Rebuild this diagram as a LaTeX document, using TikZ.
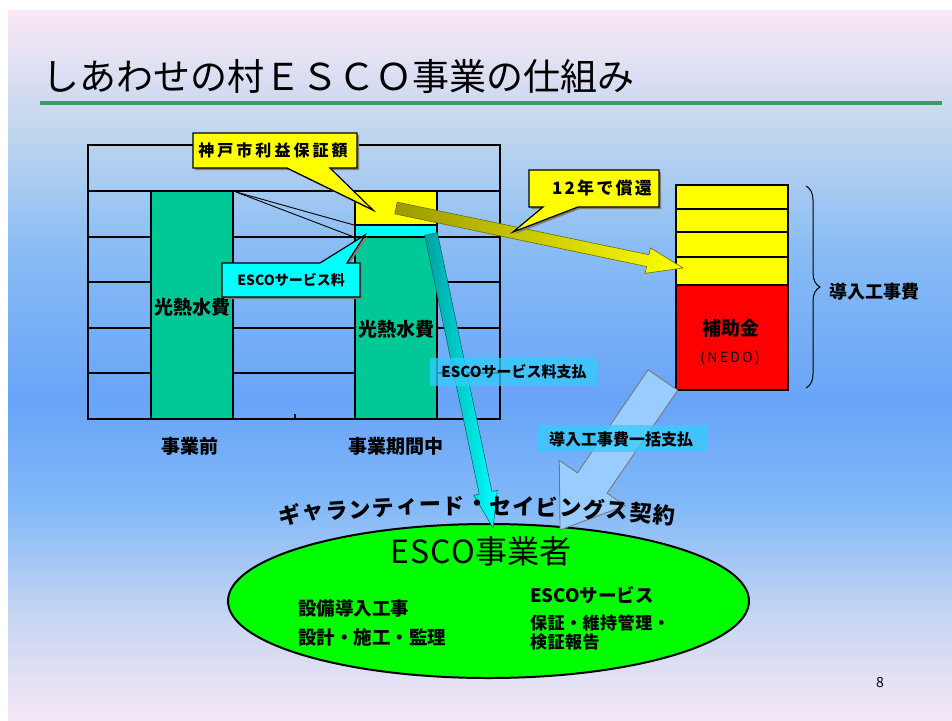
\documentclass[tikz,border=0pt]{standalone}
\usepackage{fontspec}
\setmainfont{Noto Sans CJK JP}
\usetikzlibrary{calc,decorations.pathreplacing,shapes.geometric}
\definecolor{bgA}{HTML}{FBE8F6}
\definecolor{bgB}{HTML}{C0D6EE}
\definecolor{bgC}{HTML}{88BCF4}
\definecolor{bgD}{HTML}{68A4F8}
\definecolor{bgE}{HTML}{80B8F8}
\definecolor{bgF}{HTML}{C8D6F2}
\definecolor{bgG}{HTML}{F5E8F6}
\definecolor{ruleg}{HTML}{3A9A6A}
\definecolor{barg}{HTML}{00C896}
\definecolor{ylw}{HTML}{FFFF00}
\definecolor{cyn}{HTML}{00FFFF}
\definecolor{redb}{HTML}{FF0000}
\definecolor{ellg}{HTML}{00FF00}
\definecolor{lblbox}{HTML}{33CCFF}
\definecolor{lightarr}{HTML}{99CCFF}
\definecolor{olivedk}{HTML}{9A9A00}
\definecolor{tealdk}{HTML}{00A0A0}
\newcommand\blkarrow[6]{%
  \coordinate (ah) at ($(#3)!#6!(#2)$);
  \path[#1] ($(#2)!#4!90:(#3)$) -- ($(ah)!#4!90:(#3)$) -- ($(ah)!#5!90:(#3)$) -- (#3)
    -- ($(ah)!#5!-90:(#3)$) -- ($(ah)!#4!-90:(#3)$) -- ($(#2)!#4!-90:(#3)$) -- cycle;}
\tikzset{
  lbl/.style={font=\bfseries\fontsize{19}{21}\selectfont, inner sep=0pt},
  smlbl/.style={font=\bfseries\fontsize{15}{17}\selectfont, inner sep=0pt},
  ellbl/.style={font=\bfseries\fontsize{18.5}{20}\selectfont, inner sep=0pt, anchor=west},
  ellsm/.style={font=\bfseries\fontsize{17}{19}\selectfont\addfontfeature{LetterSpace=3}, inner sep=0pt, anchor=west},
  grid/.style={line width=1.2pt, draw=black},
  cell/.style={line width=1.2pt, draw=black},
  callshadow/.style={fill=black!50},
  lblboxs/.style={fill=lblbox, fill opacity=0.75, draw=none},
}
\begin{document}
\begin{tikzpicture}[x=1pt,y=-1pt]
\useasboundingbox (0,0) rectangle (952,720);
\fill[white] (0,0) rectangle (952,720);
% background bands
\shade[top color=bgA, bottom color=bgB] (8,10) rectangle (952,130.5);
\shade[top color=bgB, bottom color=bgC] (8,130) rectangle (952,250.5);
\shade[top color=bgC, bottom color=bgD] (8,250) rectangle (952,400.5);
\shade[top color=bgD, bottom color=bgE] (8,400) rectangle (952,500.5);
\shade[top color=bgE, bottom color=bgF] (8,500) rectangle (952,620.5);
\shade[top color=bgF, bottom color=bgG] (8,620) rectangle (952,720);
% title
\node[anchor=west, inner sep=0pt, font=\fontsize{37}{40}\selectfont] (title) at (42,76) {しあわせの村ＥＳＣＯ事業の仕組み};
\draw[ruleg, line width=4pt] (40,102.5) -- (942,102.5);
% chart grid
\draw[grid] (88,145) rectangle (500,419);
\foreach \yy in {191,237,282,328,373} \draw[grid] (88,\yy) -- (500,\yy);
\draw[grid] (295,419) -- (295,414);
\draw[cell, fill=barg] (151,191) rectangle (233,419);
\draw[cell, fill=barg] (355,237) rectangle (437,419);
\draw[cell, fill=cyn] (355,225) rectangle (437,237);
\draw[cell, fill=ylw] (355,191) rectangle (437,225);
\coordinate (dl0) at (236,192);
\coordinate (dl1) at (354,225);
\coordinate (dl2) at (354,237);
\draw[line width=0.9pt] (dl0) -- (dl1);
\draw[line width=0.9pt] (dl0) -- (dl2);
\node[lbl] (k1) at (192,307) {光熱水費};
\node[lbl] (k2) at (396,329) {光熱水費};
\node[lbl] (p1) at (190,446) {事業前};
\node[lbl] (p2) at (396,446) {事業期間中};
% callout 1
\fill[callshadow] (195,135) -- (359,135) -- (359,170) -- (332,170) -- (375,212) -- (289,170) -- (195,170) -- cycle;
\draw[line width=1.2pt, fill=ylw] (193,133) -- (357,133) -- (357,168) -- (330,168) -- (373,210) -- (287,168) -- (193,168) -- cycle;
\node[inner sep=0pt, font=\bfseries\fontsize{16}{18}\selectfont\addfontfeature{LetterSpace=19}] (c1) at (273,150.5) {神戸市利益保証額};
% callout 2
\fill[callshadow] (224,265) -- (322,265) -- (367,237) -- (349,265) -- (362,265) -- (362,299) -- (224,299) -- cycle;
\draw[line width=1.2pt, fill=cyn] (222,263) -- (320,263) -- (365,235) -- (347,263) -- (360,263) -- (360,297) -- (222,297) -- cycle;
\node[font=\bfseries\fontsize{14}{16}\selectfont, inner sep=0pt] (c2) at (291,280) {ESCOサービス料};
% right stack
\draw[cell, fill=ylw] (676,185) rectangle (788,209);
\draw[cell, fill=ylw] (676,209) rectangle (788,232);
\draw[cell, fill=ylw] (676,232) rectangle (788,257);
\draw[cell, fill=ylw] (676,257) rectangle (788,285);
\draw[cell, fill=redb] (676,285) rectangle (788,390);
\node[lbl] (hj) at (731,328) {補助金};
\node[inner sep=0pt, font=\fontsize{14}{16}\selectfont] (nedo) at (730,358) {(\,N\,E\,D\,O\,)};
\coordinate (brt) at (806,186);
\coordinate (brb) at (806,388);
\draw[line width=1pt, decorate, decoration={brace, amplitude=14pt}] (brt) -- (brb);
\node[lbl, font=\bfseries\fontsize{18}{20}\selectfont] (dk) at (874,292) {導入工事費};
% yellow arrow
\coordinate (ya0) at (396,208);
\coordinate (ya1) at (683,268);
\blkarrow{left color=olivedk, right color=ylw, draw=olivedk!70!black, line width=0.6pt}{ya0}{ya1}{6pt}{13pt}{36pt}
% callout 3
\fill[callshadow] (531,172) -- (661,172) -- (661,209) -- (580,209) -- (515,234) -- (545,209) -- (531,209) -- cycle;
\draw[line width=1.2pt, fill=ylw] (529,170) -- (659,170) -- (659,207) -- (578,207) -- (513,232) -- (543,207) -- (529,207) -- cycle;
\node[inner sep=0pt, font=\bfseries\fontsize{17}{19}\selectfont\addfontfeature{LetterSpace=13}] (c3) at (602,188.5) {12年で償還};
% ellipse
\node[draw=black, line width=2pt, fill=ellg, ellipse, minimum width=521pt, minimum height=154pt, inner sep=0pt] (esco) at (488.5,601) {};
\node[inner sep=0pt, font=\fontsize{32}{34}\selectfont] (escot) at (481,551) {E\kern1ptS\kern1ptC\kern1ptO事業者};
\node[ellbl] (e1) at (298,608) {設備導入工事};
\node[ellbl] (e2) at (298,637) {設計・施工・監理};
\node[ellbl] (e3) at (530,595) {ESCOサービス};
\node[ellsm] (e4) at (530,623) {保証・維持管理・};
\node[ellsm] (e5) at (530,642) {検証報告};
% cyan arrow
\coordinate (ca0) at (431,234);
\coordinate (ca1) at (493,528);
\blkarrow{left color=tealdk, right color=cyn, draw=tealdk!60!black, line width=0.5pt}{ca0}{ca1}{6.5pt}{12pt}{36pt}
% light blue arrow
\coordinate (la0) at (663,380);
\coordinate (la1) at (560,530);
\blkarrow{fill=lightarr, draw=black!55, line width=0.8pt}{la0}{la1}{18pt}{40pt}{57pt}
% label boxes
\path[lblboxs] (430,358) rectangle (597,386);
\node[smlbl] (l1) at (514,372) {ESCOサービス料支払};
\path[lblboxs] (538,425) rectangle (707,452);
\node[smlbl, font=\bfseries\fontsize{16}{18}\selectfont] (l2) at (621,439) {導入工事費一括支払};
% curved text
\foreach \c [count=\i from 0] in {ギ,ャ,ラ,ン,テ,ィ,ー,ド,・,セ,イ,ビ,ン,グ,ス,契,約} {
  \pgfmathsetmacro\ox{(\i-8)*23.4}
  \pgfmathsetmacro\oq{\ox/100}
  \pgfmathsetmacro\oy{506+2.5*\oq*\oq}
  \pgfmathsetmacro\ang{-2.865*\oq}
  \node[inner sep=0pt, font=\bfseries\fontsize{22}{24}\selectfont, rotate=\ang] (gs\i) at (477+\ox,\oy) {\c};
}
\node[inner sep=0pt, font=\fontsize{14}{16}\selectfont] (pg) at (880,682) {8};
\end{tikzpicture}
\end{document}
